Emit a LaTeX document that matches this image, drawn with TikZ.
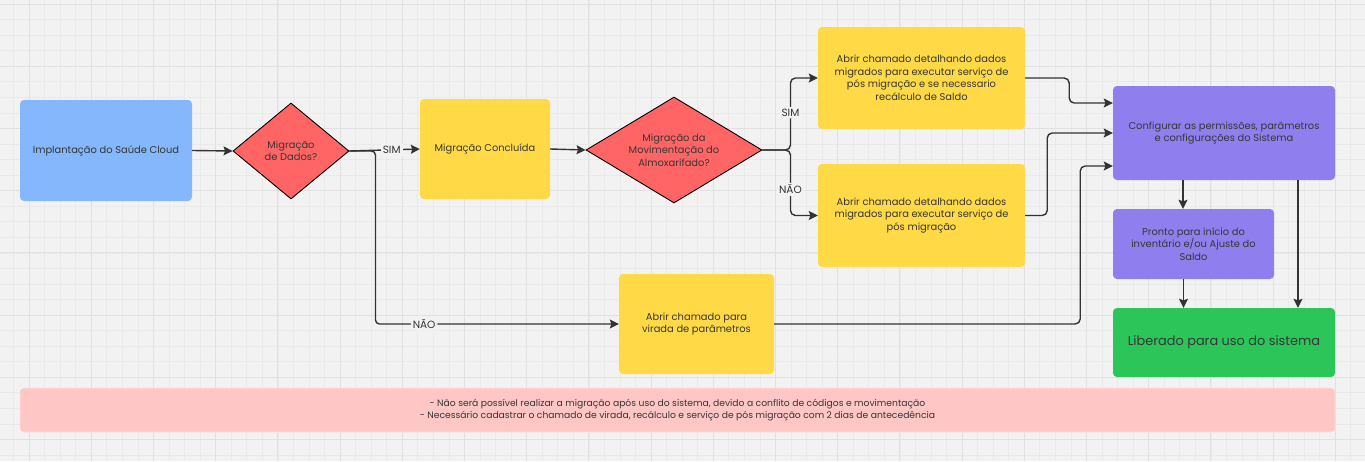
\documentclass[tikz,border=0pt]{standalone}
\usepackage{fontspec}
\setmainfont{Poppins}
\usetikzlibrary{shapes.geometric,arrows.meta}
\definecolor{bg}{HTML}{F2F2F2}
\definecolor{gminor}{HTML}{EAEAEA}
\definecolor{gmajor}{HTML}{E1E1E1}
\definecolor{cblue}{HTML}{85B7FD}
\definecolor{cred}{HTML}{FF6565}
\definecolor{cyellow}{HTML}{FFDA46}
\definecolor{cpurple}{HTML}{8F7FEE}
\definecolor{cgreen}{HTML}{2CC55A}
\definecolor{cpink}{HTML}{FFC6C6}
\definecolor{ctext}{HTML}{363636}
\definecolor{cline}{HTML}{333333}
\tikzset{
  box/.style={rectangle, rounded corners=4pt, inner sep=0pt, align=center,
    text=ctext, font={\fontsize{9.9}{12.5}\selectfont}},
  dia/.style={diamond, draw=black, line width=0.9pt, fill=cred, inner sep=0pt,
    align=center, text=ctext, font={\fontsize{9.9}{12.5}\selectfont}},
  arr/.style={draw=cline, line width=1.4pt, -{Stealth[length=9pt,width=9pt,inset=1.5pt]}},
  lbl/.style={fill=bg, inner sep=2pt, text=cline, font={\fontsize{10.5}{12}\selectfont}},
}
\begin{document}
\begin{tikzpicture}[x=1pt,y=1pt]
\fill[bg] (0,0) rectangle (1365,-461);
\useasboundingbox (0,0) rectangle (1365,-461);
\foreach \i in {0,...,88} \draw[gminor, line width=0.6pt] ({13.45+15.55*\i},0) -- ++(0,-461);
\foreach \j in {0,...,29} \draw[gminor, line width=0.6pt] (0,{-4-15.55*\j}) -- ++(1365,0);
\foreach \i in {0,...,21} \draw[gmajor, line width=1pt] ({29+62.2*\i},0) -- ++(0,-461);
\foreach \j in {0,...,7} \draw[gmajor, line width=1pt] (0,{-4-62.2*\j}) -- ++(1365,0);

\node[box, fill=cblue, minimum width=172, minimum height=101] (impl) at (106,-150.5) {Implantação do Saúde Cloud};
\node[dia, minimum width=116, minimum height=96, aspect=1.2] (d1) at (291,-151) {Migração\\de Dados?};
\node[box, fill=cyellow, minimum width=130, minimum height=100] (conc) at (485,-149) {Migração Concluída};
\node[dia, minimum width=176, minimum height=106, aspect=1.66] (d2) at (674,-150) {Migração da\\Movimentação do\\Almoxarifado?};
\node[box, fill=cyellow, minimum width=207, minimum height=102] (sim) at (921.5,-78) {Abrir chamado detalhando dados\\migrados para executar serviço de\\pós migração e se necessario\\recálculo de Saldo};
\node[box, fill=cyellow, minimum width=207, minimum height=103] (nao) at (921.5,-215.5) {Abrir chamado detalhando dados\\migrados para executar serviço de\\pós migração};
\node[box, fill=cyellow, minimum width=155, minimum height=100] (vira) at (696.5,-324) {Abrir chamado para\\virada de parâmetros};
\node[box, fill=cpurple, minimum width=222, minimum height=94] (conf) at (1224,-133) {Configurar as permissões, parâmetros\\e configurações do Sistema};
\node[box, fill=cpurple, minimum width=161, minimum height=70] (pronto) at (1193.5,-244) {Pronto para início do\\inventário e/ou Ajuste do\\Saldo};
\node[box, fill=cgreen, minimum width=222, minimum height=69, font={\fontsize{12.9}{15}\selectfont}] (lib) at (1224,-342.5) {Liberado para uso do sistema};
\node[box, fill=cpink, draw=cpink!60!white, line width=0.6pt, minimum width=1315, minimum height=44, font={\fontsize{9.2}{12}\selectfont}] (nota) at (677.5,-410) {- Não será possível realizar a migração após uso do sistema, devido a conflito de códigos e movimentação\\- Necessário cadastrar o chamado de virada, recálculo e serviço de pós migração com 2 dias de antecedência};

\draw[arr] (impl.east) -- (d1.west);
\draw[arr] (d1.east) -- node[lbl, pos=0.6] {SIM} (conc.west);
\draw[arr, rounded corners=4pt] (d1.east) -- ++(26,0) |- node[lbl, pos=0.6] {NÃO} (vira.west);
\draw[arr] (conc.east) -- (d2.west);
\draw[arr, rounded corners=5pt] (d2.east) -- ++(28,0) |- node[lbl, pos=0.26] {SIM} (sim.west);
\draw[arr, rounded corners=5pt] (d2.east) -- ++(28,0) |- node[lbl, pos=0.3] {NÃO} (nao.west);
\draw[arr, rounded corners=5pt] (sim.east) -- ++(44,0) |- ([yshift=30]conf.west);
\draw[arr, rounded corners=5pt] (nao.east) -- ++(22,0) |- (conf.west);
\draw[arr, rounded corners=5pt] (vira.east) -- ++(306,0) |- ([yshift=-33]conf.west);
\draw[arr] ([xshift=-41]conf.south) -- ([xshift=-41]conf.south |- pronto.north);
\draw[arr] ([xshift=-10]pronto.south) -- ([xshift=-10]pronto.south |- lib.north);
\draw[arr] ([xshift=74]conf.south) -- ([xshift=74]conf.south |- lib.north);
\end{tikzpicture}
\end{document}
